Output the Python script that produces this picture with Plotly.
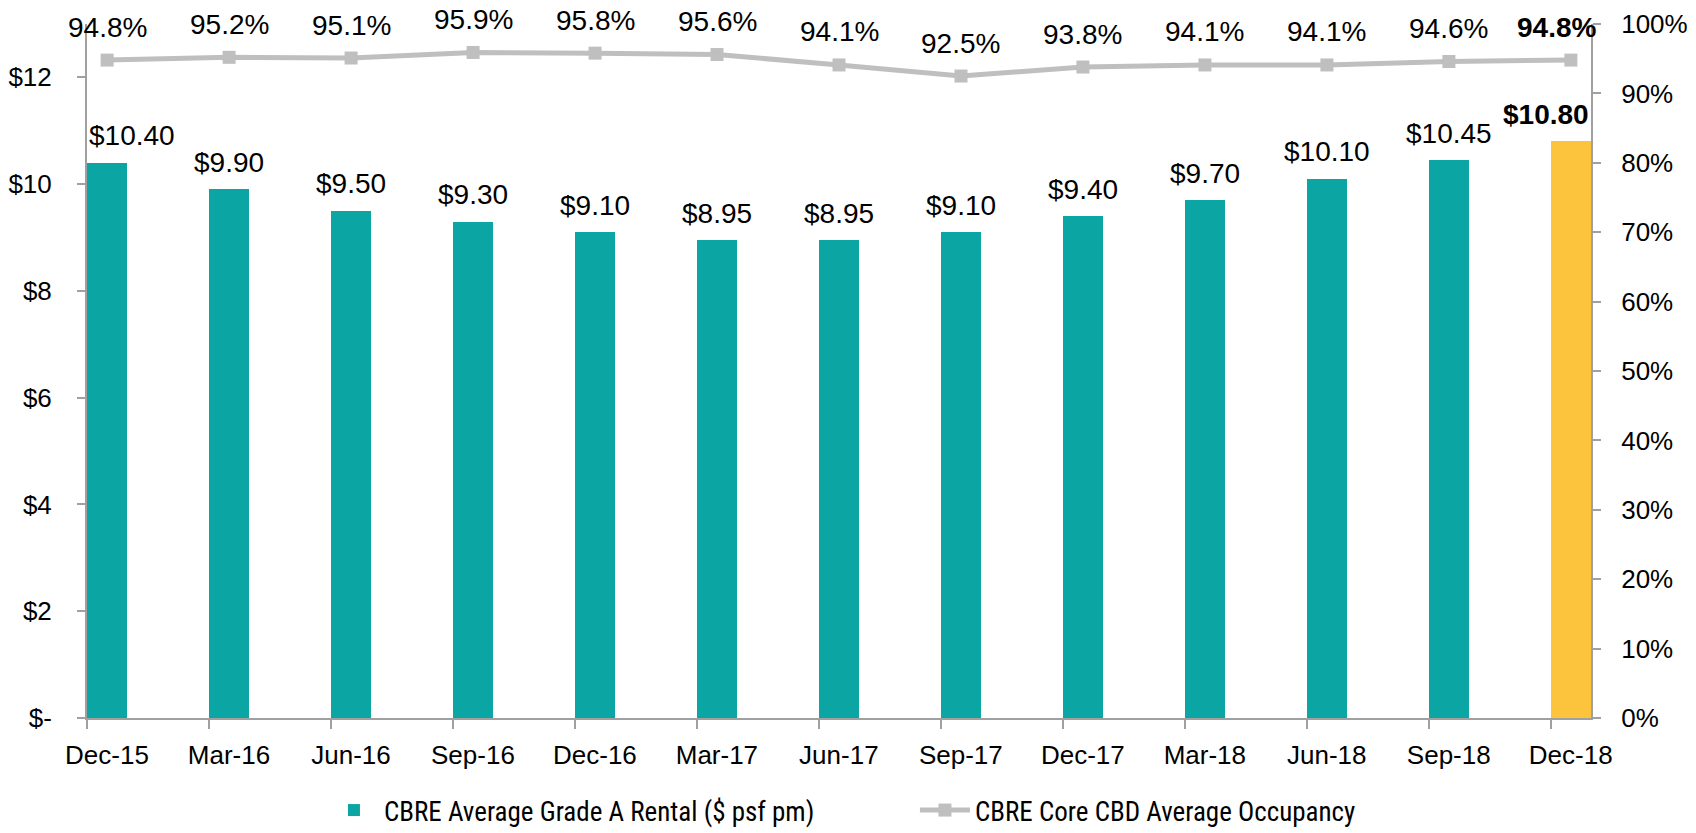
import plotly.graph_objects as go
from plotly.subplots import make_subplots

quarters = ["Dec-15", "Mar-16", "Jun-16", "Sep-16", "Dec-16", "Mar-17", "Jun-17",
            "Sep-17", "Dec-17", "Mar-18", "Jun-18", "Sep-18", "Dec-18"]
rental = [10.40, 9.90, 9.50, 9.30, 9.10, 8.95, 8.95, 9.10, 9.40, 9.70, 10.10, 10.45, 10.80]
occupancy = [94.8, 95.2, 95.1, 95.9, 95.8, 95.6, 94.1, 92.5, 93.8, 94.1, 94.1, 94.6, 94.8]
rental_ticks = [0, 2, 4, 6, 8, 10, 12]
rental_tick_text = ["$-", "$2", "$4", "$6", "$8", "$10", "$12"]

TEAL = "#0BA6A4"
GOLD = "#FBC43C"
GREY_LINE = "#BFBFBF"
AXIS = "#A0A0A0"
FONT = "Liberation Sans, Arial, sans-serif"

n = len(quarters)
xs = list(range(n))
bw = 0.33
last = n - 1

fig = make_subplots(specs=[[{"secondary_y": True}]])

fig.add_trace(go.Bar(
    x=xs, y=rental,
    name="CBRE Average Grade A Rental ($ psf pm)",
    width=bw,
    marker=dict(color=[TEAL] * last + [GOLD], line=dict(width=0)),
), secondary_y=False)

fig.add_trace(go.Scatter(
    x=xs, y=occupancy,
    name="CBRE Core CBD Average Occupancy",
    mode="lines+markers",
    line=dict(color=GREY_LINE, width=5),
    marker=dict(symbol="square", size=13, color=GREY_LINE),
), secondary_y=True)

# data labels
annotations = []
for i, v in enumerate(rental):
    txt = "$%.2f" % v
    if i == last:
        txt = "<b>%s</b>" % txt
    shift = 25 if i == 0 else (-25 if i == last else 0)
    annotations.append(dict(x=i, y=v, xref="x", yref="y", text=txt, showarrow=False,
                            yanchor="middle", yshift=27, xshift=shift,
                            font=dict(family=FONT, size=28, color="black")))
for i, v in enumerate(occupancy):
    txt = "%.1f%%" % v
    if i == last:
        txt = "<b>%s</b>" % txt
    shift = -14 if i == last else 0
    annotations.append(dict(x=i, y=v, xref="x", yref="y2", text=txt, showarrow=False,
                            yanchor="middle", yshift=33, xshift=shift,
                            font=dict(family=FONT, size=28, color="black")))

fig.update_layout(
    width=1696, height=833,
    margin=dict(l=87, r=105, t=24, b=115, autoexpand=False),
    plot_bgcolor="white", paper_bgcolor="white",
    font=dict(family=FONT, size=26, color="black"),
    showlegend=True,
    legend=dict(orientation="h", x=0.5505, xanchor="center", y=-0.098, yanchor="top",
                font=dict(family="Liberation Sans Narrow, Roboto Condensed, Liberation Sans", size=27,
                          color="black"),
                itemwidth=50, entrywidth=526),
    annotations=annotations,
    bargap=0,
)

fig.update_xaxes(
    domain=[0, 1],
    range=[-bw / 2, last + bw / 2],
    tickmode="array",
    tickvals=[x - bw / 2 for x in xs],
    ticktext=quarters,
    ticklabelshift=20,
    ticks="outside", ticklen=9, tickwidth=2, tickcolor=AXIS,
    ticklabelstandoff=4,
    showline=True, linecolor=AXIS, linewidth=2,
    showgrid=False, zeroline=False, automargin=False,
    tickfont=dict(size=26),
)
fig.update_yaxes(
    range=[0, 13],
    tickmode="array", tickvals=rental_ticks, ticktext=rental_tick_text,
    ticks="outside", ticklen=8, tickwidth=2, tickcolor=AXIS,
    ticklabelstandoff=20,
    showline=True, linecolor=AXIS, linewidth=2,
    showgrid=False, zeroline=False, automargin=False,
    tickfont=dict(size=26),
    secondary_y=False,
)
fig.update_yaxes(
    range=[0, 100], dtick=10, ticksuffix="%",
    ticks="outside", ticklen=8, tickwidth=2, tickcolor=AXIS,
    ticklabelstandoff=15,
    showline=True, linecolor=AXIS, linewidth=2,
    showgrid=False, zeroline=False, automargin=False,
    tickfont=dict(size=26),
    secondary_y=True,
)

# drop the default 8px body margin so the figure fills the window exactly
fig.write_html("out.html", config={"displayModeBar": False},
               post_script="document.body.style.margin='0';")
